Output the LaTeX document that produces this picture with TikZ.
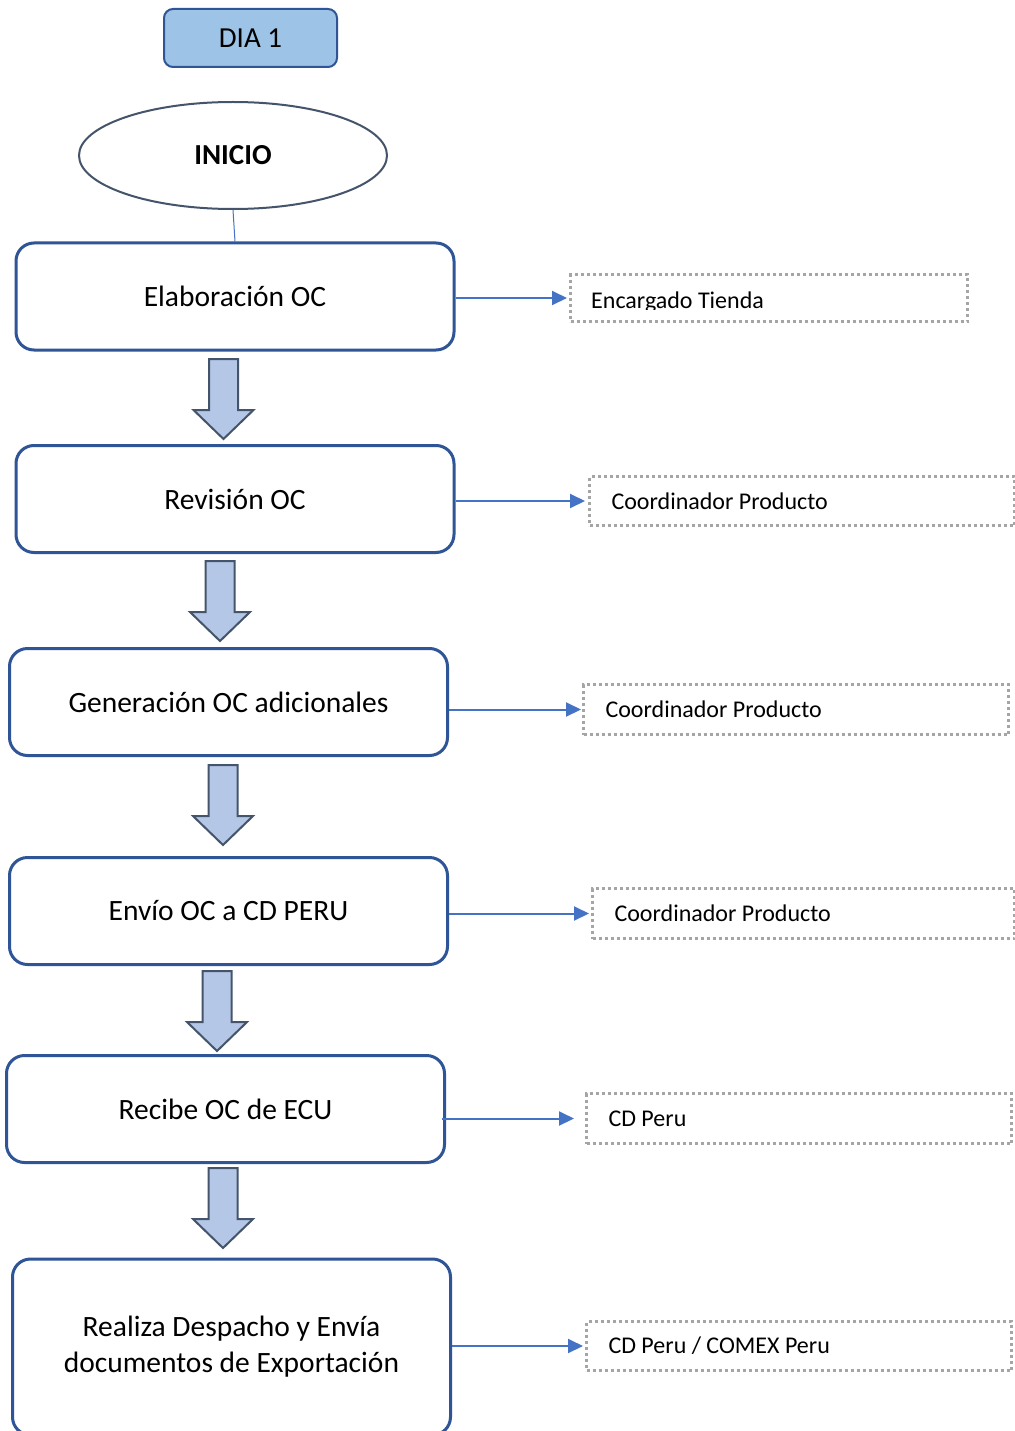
\documentclass[tikz,border=0pt]{standalone}
\usepackage{fontspec}
\setmainfont{Carlito}
\usetikzlibrary{shapes.geometric,arrows.meta,calc}
\definecolor{boxblue}{HTML}{2F5597}
\definecolor{arrowblue}{HTML}{4472C4}
\definecolor{diafill}{HTML}{9DC3E6}
\definecolor{blkfill}{HTML}{B4C7E7}
\definecolor{blkline}{HTML}{44546A}
\definecolor{dashgrey}{HTML}{A5A5A5}
\newcommand\blkarrow[2]{%
  \draw[blk] (#1-14.5,#2) -- (#1+14.5,#2) -- (#1+14.5,#2+51) -- (#1+30,#2+51)
    -- (#1,#2+80) -- (#1-30,#2+51) -- (#1-14.5,#2+51) -- cycle;}
\begin{document}
\begin{tikzpicture}[x=1pt,y=-1pt,
  stepbox/.style={draw=boxblue, line width=3pt, rounded corners=18pt,
    minimum width=438pt, minimum height=107pt, align=center,
    font=\fontsize{29.5}{36}\selectfont, inner sep=0pt},
  rolebox/.style={draw=dashgrey, line width=3pt, dash pattern=on 3pt off 3pt,
    anchor=north west, align=flush left, inner xsep=22pt, inner ysep=0pt,
    font=\fontsize{24}{29}\selectfont},
  conn/.style={draw=arrowblue, line width=2pt, -{Triangle[length=15pt,width=14pt]}},
  blk/.style={draw=blkline, fill=blkfill, line width=2pt, line join=miter}]
\useasboundingbox (0,0) rectangle (1014,1431);
\fill[white] (0,0) rectangle (1014,1431);

\node[draw=boxblue, fill=diafill, line width=2pt, rounded corners=9pt,
  minimum width=173pt, minimum height=58pt, inner sep=0pt,
  font=\fontsize{29}{36}\selectfont] (dia) at (250.5,38) {DIA 1};

\node[ellipse, draw=blkline, line width=2pt, minimum width=308pt,
  minimum height=107pt, inner sep=0pt,
  font=\fontsize{29}{36}\selectfont\bfseries] (ini) at (233,155.5) {INICIO};

\node[stepbox] (b1) at (235,296.5) {Elaboración OC};
\node[stepbox] (b2) at (235,499) {Revisión OC};
\node[stepbox] (b3) at (228.5,702) {Generación OC adicionales};
\node[stepbox] (b4) at (228.5,911) {Envío OC a CD PERU};
\node[stepbox] (b5) at (225.5,1109) {Recibe OC de ECU};
\node[stepbox, minimum height=176pt] (b6) at (231.5,1347) {Realiza Despacho y Envía\\documentos de Exportación};

\draw[draw=arrowblue, line width=1pt] (ini.south) -- (b1.north);

\blkarrow{223.5}{359}
\blkarrow{220}{561}
\blkarrow{223}{765}
\blkarrow{217}{971}
\blkarrow{223}{1168}

\node[rolebox, minimum width=397pt, minimum height=47pt, text width=353pt] (r1) at (569,273) {};
\begin{scope}
  \clip (569,273) rectangle (966,309);
  \node[anchor=base west, inner sep=0pt, font=\fontsize{24}{29}\selectfont] (t1) at (591,308) {Encargado Tienda};
\end{scope}
\node[rolebox, minimum width=425pt, minimum height=49pt, text width=381pt] (r2) at (588,475) {Coordinador Producto};
\node[rolebox, minimum width=425pt, minimum height=50pt, text width=381pt] (r3) at (582,683) {Coordinador Producto};
\node[rolebox, minimum width=422pt, minimum height=50pt, text width=378pt] (r4) at (591,887) {Coordinador Producto};
\node[rolebox, minimum width=425pt, minimum height=50pt, text width=381pt] (r5) at (585,1092) {CD Peru};
\node[rolebox, minimum width=425pt, minimum height=49pt, text width=381pt] (r6) at (585,1320) {CD Peru / COMEX Peru};

\draw[conn, shorten >=2pt] (b1.east |- r1.west) -- (r1.west);
\draw[conn, shorten >=3pt] (b2.east |- r2.west) -- (r2.west);
\draw[conn, shorten >=1pt] (b3.east |- r3.west) -- (r3.west);
\draw[conn, shorten >=2pt] (b4.east |- r4.west) -- (r4.west);
\draw[conn, shorten >=11pt, shorten <=-4pt] (b5.east |- r5.west) -- (r5.west);
\draw[conn, shorten >=2pt] (b6.east |- r6.west) -- (r6.west);
\end{tikzpicture}
\end{document}
